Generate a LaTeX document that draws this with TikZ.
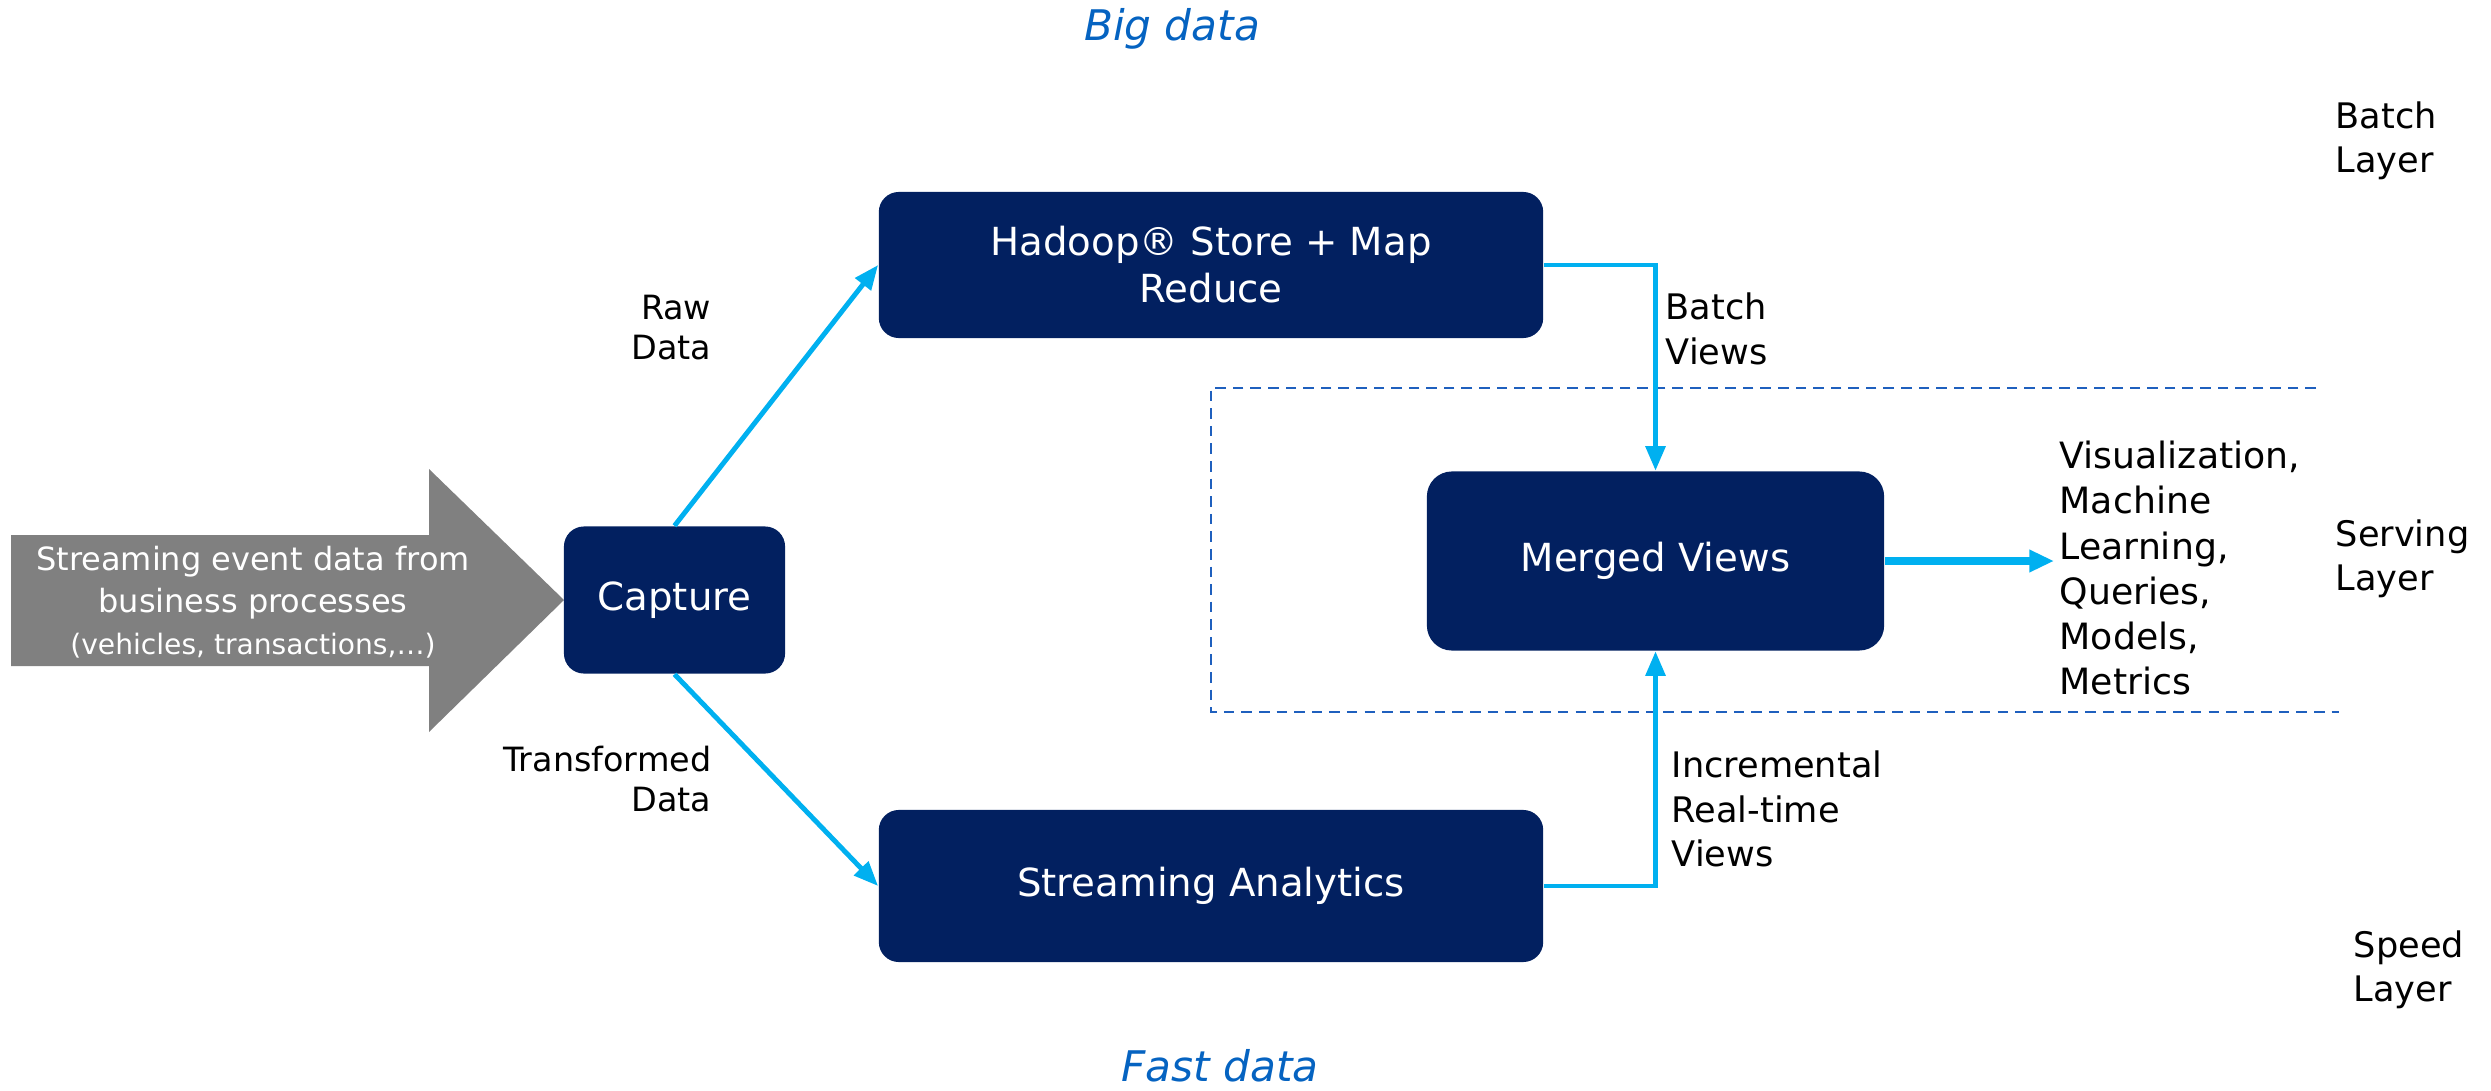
\documentclass[tikz,border=0pt]{standalone}
\usepackage{fontspec}
\setmainfont{DejaVu Sans}
\usetikzlibrary{arrows.meta}
\definecolor{navy}{RGB}{2,32,96}
\definecolor{flow}{RGB}{0,176,240}
\definecolor{zone}{RGB}{31,96,190}
\definecolor{title}{RGB}{5,99,193}
\definecolor{source}{RGB}{128,128,128}
\tikzset{
  proc/.style={fill=navy, draw=none, rounded corners=0.2cm, text=white, align=center,
    font=\fontsize{11}{13.4}\selectfont, inner sep=0pt},
  link/.style={draw=flow, line width=1.4pt, -{Triangle[length=7pt,width=5.5pt]}},
  note/.style={font=\fontsize{9.5}{11.4}\selectfont, inner sep=0pt},
  side/.style={font=\fontsize{10}{12.6}\selectfont, inner sep=0pt, align=left, anchor=west},
  heading/.style={font=\fontsize{12}{14}\selectfont\itshape, text=title, inner sep=0pt},
}
\begin{document}
\begin{tikzpicture}[x=0.01cm, y=-0.01cm]
\useasboundingbox (0,0) rectangle (2491,1091);

% incoming event stream
\fill[source] (11,535) -- (429,535) -- (429,469) -- (564,600) -- (429,732)
  -- (429,666) -- (11,666) -- cycle;
\node[text=white, align=center, inner sep=0pt] (src) at (253,602)
  {\fontsize{9.1}{10.9}\selectfont Streaming event data from\\
   \fontsize{9.1}{10.9}\selectfont business processes\\
   \fontsize{8}{10.9}\selectfont (vehicles, transactions,\dots)};

% processing boxes
\node[proc, minimum width=2.21cm, minimum height=1.47cm] (cap) at (674.5,600) {Capture};
\node[proc, minimum width=6.64cm, minimum height=1.46cm] (hadoop) at (1211,265)
  {Hadoop® Store + Map\\Reduce};
\node[proc, minimum width=6.64cm, minimum height=1.52cm] (stream) at (1211,886)
  {Streaming Analytics};
\node[proc, minimum width=4.57cm, minimum height=1.79cm, rounded corners=0.25cm] (merged)
  at (1655.5,561) {Merged Views};

% serving layer boundary
\draw[zone, line width=0.6pt, dash pattern=on 3pt off 2pt]
  (2316,388) -- (1211,388) -- (1211,712) -- (2339,712);

% connectors
\draw[link] (cap.north) -- (hadoop.west);
\draw[link] (cap.south) -- (stream.west);
\draw[link] (hadoop.east) -| (merged.north);
\draw[link] (stream.east) -| (merged.south);
\coordinate (out) at (2054,561);
\draw[draw=flow, line width=2pt, -{Triangle[length=7pt,width=6pt]}] (merged.east) -- (out);

% connector labels
\node[note, align=right, anchor=east] (raw) at (712,328) {Raw\\Data};
\node[note, align=right, anchor=east] (trans) at (712,779) {Transformed\\Data};
\node[side] (bview) at (1665,329) {Batch\\Views};
\node[side] (rview) at (1671,809) {Incremental\\Real-time\\Views};
\node[side, font=\fontsize{10.3}{12.8}\selectfont] (uses) at (2059,568)
  {Visualization,\\Machine\\Learning,\\Queries,\\Models,\\Metrics};

% layer names
\node[side] (batch) at (2335,141) {Batch\\Layer};
\node[side] (serving) at (2335,559) {Serving\\Layer};
\node[side] (speed) at (2353,970) {Speed\\Layer};

% headings
\node[heading] (big) at (1172,29) {Big data};
\node[heading] (fast) at (1220,1066) {Fast data};
\end{tikzpicture}
\end{document}
